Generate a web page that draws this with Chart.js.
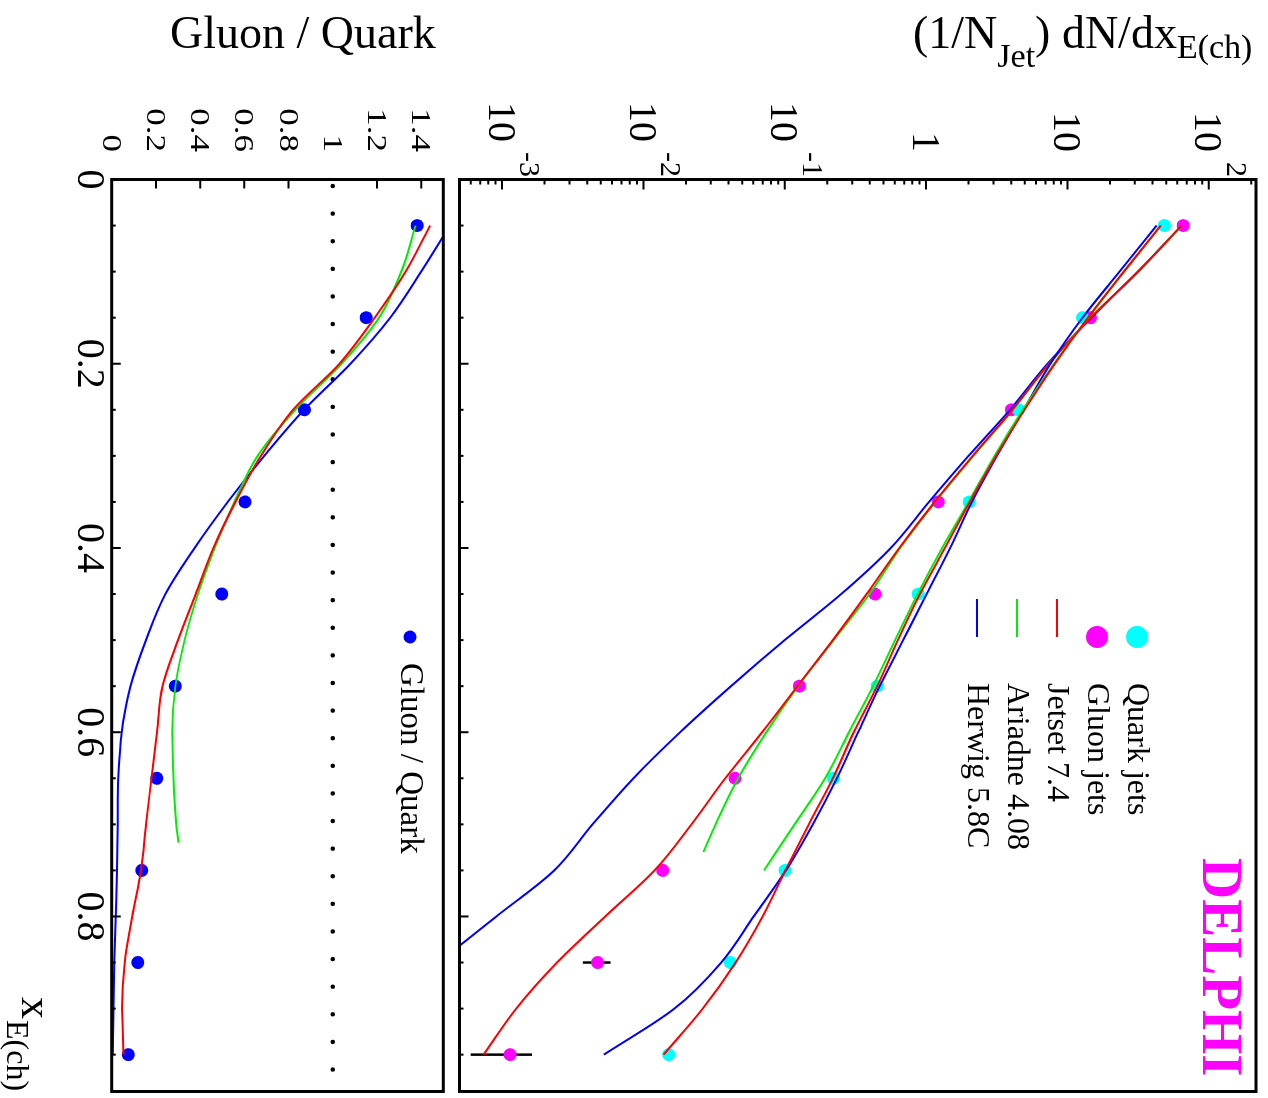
<!DOCTYPE html>
<html lang="en">
<head>
<meta charset="UTF-8" />
<title>DELPHI quark / gluon jet x_E spectra</title>
<script src="https://cdn.jsdelivr.net/npm/chart.js@4.4.1/dist/chart.umd.min.js"></script>
<style>
  body { margin: 0; width: 1268px; height: 1098px; overflow: hidden; background: #fff; }
  /* the plot is built upright, then turned a quarter turn clockwise */
  #turn {
    position: absolute; left: 0; top: 0; width: 1098px; height: 1268px;
    transform-origin: 0 0; transform: translate(1268px, 0) rotate(90deg);
  }
  #turn canvas { position: absolute; left: 0; }
  #spec { top: 0; }
  #ratio { top: 815px; }
</style>
</head>
<body>
<div id="turn">
  <canvas id="spec" width="1098" height="815"></canvas>
  <canvas id="ratio" width="1098" height="453"></canvas>
</div>
<script>
  const SERIF = '"Liberation Serif", "Times New Roman", serif';
  const FULL_H = 1268;   // upright height = page width after the turn
  const RATIO_TOP = 815;

  // measured points, bin centres in x_E
  const xBins = [0.05, 0.15, 0.25, 0.35, 0.45, 0.55, 0.65, 0.75, 0.85, 0.95];
  const quarkJets = [48.6, 12.8, 4.52, 2.02, 0.879, 0.451, 0.221, 0.1005, 0.0412, 0.0151];
  const gluonJets = [65.9, 14.6, 4.02, 1.22, 0.435, 0.127, 0.0445, 0.0137, 0.00474, 0.00114];
  const gluonErrLow = [null, null, null, null, null, null, null, null, 0.00373, 0.0006];
  const gluonErrHigh = [null, null, null, null, null, null, null, null, 0.00586, 0.00163];
  const gluonOverQuark = [1.382, 1.151, 0.872, 0.603, 0.498, 0.288, 0.204, 0.136, 0.118, 0.075];

  // model curves
  const curveX = [0.05, 0.10, 0.15, 0.20, 0.25, 0.30, 0.35, 0.40, 0.45, 0.50,
                  0.55, 0.60, 0.65, 0.70, 0.75, 0.80, 0.85, 0.90, 0.95];
  const jetsetQuark = [45.8, 25.1, 14.0, 8.15, 4.97, 3.13, 2.04, 1.36, 0.904, 0.632,
                       0.451, 0.308, 0.219, 0.148, 0.101, 0.0697, 0.0449, 0.0263, 0.0139];
  const herwigQuark = [42.8, 23.4, 12.8, 7.59, 4.9, 3.17, 2.11, 1.48, 1.01, 0.689,
                       0.47, 0.331, 0.234, 0.158, 0.102, 0.0603, 0.0355, 0.0166, 0.00525];
  const ariadneQuarkX = [0.05, 0.10, 0.15, 0.20, 0.25, 0.30, 0.35, 0.40, 0.45, 0.50,
                         0.55, 0.60, 0.65, 0.70, 0.75];
  const ariadneQuark = [45.8, 25.1, 14.0, 8.04, 4.84, 3.05, 2.0, 1.30, 0.873, 0.605,
                        0.422, 0.285, 0.193, 0.1175, 0.0714];
  const jetsetGluon = [64.3, 31.6, 14.6, 7.4, 4.08, 2.14, 1.15, 0.646, 0.38, 0.219,
                       0.123, 0.0692, 0.038, 0.0219, 0.012, 0.00537, 0.00245, 0.00126, 0.00074];
  const herwigGluon = [64.3, 31.6, 14.8, 7.24, 3.92, 2.0, 1.05, 0.562, 0.251, 0.1,
                       0.0417, 0.0182, 0.0085, 0.00437, 0.00234, 0.00091, 0.000355, 0.00014, 0.000056];
  const ariadneGluonX = [0.05, 0.10, 0.15, 0.20, 0.25, 0.30, 0.35, 0.40, 0.45, 0.50,
                         0.55, 0.60, 0.65, 0.70, 0.73];
  const ariadneGluon = [64.3, 31.6, 14.6, 7.4, 4.1, 2.16, 1.16, 0.655, 0.398, 0.221,
                        0.124, 0.0741, 0.0468, 0.0324, 0.0266];

  const jetsetRatio = [1.44, 1.33, 1.19, 1.03, 0.82, 0.675, 0.56, 0.46, 0.38, 0.30,
                       0.23, 0.205, 0.18, 0.155, 0.133, 0.093, 0.059, 0.047, 0.053];
  const herwigRatio = [1.53, 1.40, 1.26, 1.08, 0.87, 0.69, 0.525, 0.375, 0.243, 0.155,
                       0.085, 0.045, 0.030, 0.027, 0.024, 0.018, 0.012, 0.008, 0.005];
  const ariadneRatioX = [0.05, 0.10, 0.15, 0.20, 0.25, 0.30, 0.35, 0.40, 0.45, 0.50,
                         0.55, 0.60, 0.65, 0.70, 0.72];
  const ariadneRatio = [1.375, 1.31, 1.21, 1.04, 0.83, 0.66, 0.555, 0.465, 0.39, 0.33,
                        0.288, 0.274, 0.279, 0.292, 0.302];
  const unityLevel = 1;

  // axes and labels
  const xRange = [0, 0.99];
  const specRange = [5e-4, 216];
  const ratioRange = [0, 1.5];
  const logTickExps = [-3, -2, -1, 0, 1, 2];
  const ratioTicks = [0, 0.2, 0.4, 0.6, 0.8, 1, 1.2, 1.4];
  const xTickLabels = [0, 0.2, 0.4, 0.6, 0.8];
  const legendLabels = ['Quark jets', 'Gluon jets', 'Jetset 7.4', 'Ariadne 4.08', 'Herwig 5.8C'];

  const RED = '#ff0000', GREEN = '#00ee00', BLUE = '#0000ff', CYAN = '#00ffff', MAGENTA = '#ff00ff';

  function pts(xs, ys) { return xs.map((x, i) => ({ x: x, y: ys[i] })); }

  function curve(xs, ys, color) {
    return { data: pts(xs, ys), borderColor: color, borderWidth: 2, pointRadius: 0,
             fill: false, cubicInterpolationMode: 'monotone', order: 0 };
  }
  function dots(xs, ys, color) {
    return { data: pts(xs, ys), showLine: false, pointRadius: 6.5, pointBorderWidth: 0,
             pointBackgroundColor: color, borderColor: color, order: 1 };
  }

  // text that reads left to right once the page is turned; X, Y are page coords
  function pageText(ctx, top, runs, X, Y) {
    ctx.save();
    ctx.translate(Y, FULL_H - X - top);
    ctx.rotate(-Math.PI / 2);
    ctx.fillStyle = '#000';
    ctx.textAlign = 'left';
    ctx.textBaseline = 'alphabetic';
    let cx = 0;
    runs.forEach(r => {
      ctx.font = r.font;
      ctx.fillText(r.text, cx, r.dy || 0);
      cx += ctx.measureText(r.text).width;
    });
    ctx.restore();
  }

  // box plus inward ticks
  function drawFrame(chart, yTicks) {
    const { ctx, chartArea: a } = chart;
    const xs = chart.scales.x, ys = chart.scales.y;
    ctx.save();
    ctx.strokeStyle = '#000';
    ctx.lineWidth = 2;
    ctx.beginPath();
    yTicks.forEach(t => {
      const p = ys.getPixelForValue(t.v);
      ctx.moveTo(a.left, p); ctx.lineTo(a.left + t.len, p);
    });
    for (let i = 1; i < 20; i++) {
      const p = xs.getPixelForValue(i * 0.05);
      ctx.moveTo(p, a.bottom); ctx.lineTo(p, a.bottom - (i % 4 === 0 ? 9 : 4));
    }
    ctx.stroke();
    ctx.lineWidth = 3;
    ctx.strokeRect(a.left, a.top, a.right - a.left, a.bottom - a.top);
    ctx.restore();
  }

  function baseOptions(yScale, padTop, padBottom) {
    return {
      responsive: false,
      animation: false,
      devicePixelRatio: 1,
      layout: { padding: { left: 179.5, right: 3.7, top: padTop, bottom: padBottom } },
      scales: {
        x: { type: 'linear', min: xRange[0], max: xRange[1], bounds: 'data', display: false },
        y: Object.assign({ display: false, bounds: 'data' }, yScale)
      },
      plugins: { legend: { display: false }, tooltip: { enabled: false } }
    };
  }

  const specDecor = {
    id: 'specDecor',
    beforeDatasetsDraw(chart) {
      const ctx = chart.ctx, xs = chart.scales.x, ys = chart.scales.y;
      ctx.save();
      ctx.strokeStyle = '#000';
      ctx.lineWidth = 2.5;
      xBins.forEach((x, i) => {
        if (gluonErrLow[i] == null) return;
        const p = xs.getPixelForValue(x);
        ctx.beginPath();
        ctx.moveTo(p, ys.getPixelForValue(gluonErrLow[i]));
        ctx.lineTo(p, ys.getPixelForValue(gluonErrHigh[i]));
        ctx.stroke();
      });
      ctx.restore();
    },
    afterDraw(chart) {
      const ctx = chart.ctx, ys = chart.scales.y;
      const ticks = [];
      for (let e = -4; e <= 2; e++) {
        for (let k = 1; k <= 9; k++) {
          const v = k * Math.pow(10, e);
          if (v > specRange[0] && v < specRange[1]) ticks.push({ v: v, len: k === 1 ? 10 : 5 });
        }
      }
      drawFrame(chart, ticks);

      ctx.save();
      ctx.fillStyle = '#000';
      ctx.textAlign = 'right';
      ctx.textBaseline = 'alphabetic';
      logTickExps.forEach(e => {
        const p = ys.getPixelForValue(Math.pow(10, e));
        if (e === 0 || e === 1) {
          ctx.font = '40px ' + SERIF;
          ctx.fillText(e === 0 ? '1' : '10', 152, p + 13.5);
          return;
        }
        const sup = String(e);
        ctx.font = '30px ' + SERIF;
        const w = ctx.measureText(sup).width;
        ctx.fillText(sup, 177, p - 18);
        ctx.font = '40px ' + SERIF;
        ctx.fillText('10', 177 - w - 10, p + 13.5);
      });

      // legend
      const rows = [131, 171, 211, 251, 291];
      const marks = [CYAN, MAGENTA, RED, GREEN, BLUE];
      ctx.textAlign = 'left';
      ctx.font = '32px ' + SERIF;
      rows.forEach((ry, i) => {
        if (i < 2) {
          ctx.fillStyle = marks[i];
          ctx.beginPath(); ctx.arc(637, ry, 11, 0, 2 * Math.PI); ctx.fill();
        } else {
          ctx.strokeStyle = marks[i]; ctx.lineWidth = 2;
          ctx.beginPath(); ctx.moveTo(599, ry); ctx.lineTo(637, ry); ctx.stroke();
        }
        ctx.fillStyle = '#000';
        ctx.fillText(legendLabels[i], 683, ry + 9);
      });

      ctx.fillStyle = MAGENTA;
      ctx.font = 'bold 57px ' + SERIF;
      ctx.fillText('DELPHI', 858, 65);
      ctx.restore();

      pageText(ctx, 0, [
        { text: '(1/N', font: '46px ' + SERIF },
        { text: 'Jet', font: '34px ' + SERIF, dy: 19 },
        { text: ') dN/dx', font: '46px ' + SERIF },
        { text: 'E(ch)', font: '34px ' + SERIF, dy: 10 }
      ], 913, 48);
    }
  };

  const ratioDecor = {
    id: 'ratioDecor',
    afterDraw(chart) {
      const ctx = chart.ctx, xs = chart.scales.x, ys = chart.scales.y;
      drawFrame(chart, ratioTicks.filter(v => v > 0 && v !== 1).map(v => ({ v: v, len: 9 })));

      ctx.save();
      ctx.fillStyle = '#000';
      ctx.textAlign = 'right';
      ctx.textBaseline = 'alphabetic';
      ctx.font = '35px ' + SERIF;
      ratioTicks.forEach(v => {
        const p = ys.getPixelForValue(v);
        ctx.save();
        ctx.translate(152, p);
        ctx.scale(1, 0.75);
        ctx.fillText(String(v), 0, 11.8);
        ctx.restore();
      });

      ctx.textAlign = 'center';
      ctx.font = '40px ' + SERIF;
      xTickLabels.forEach(v => {
        ctx.fillText(String(v), xs.getPixelForValue(v), 375);
      });

      // x_E(ch) axis title
      ctx.textAlign = 'left';
      ctx.font = '44px ' + SERIF;
      ctx.fillText('x', 997, 431);
      ctx.font = '32px ' + SERIF;
      ctx.fillText('E(ch)', 1020, 446);

      // legend
      ctx.fillStyle = BLUE;
      ctx.beginPath(); ctx.arc(637, 43, 6.5, 0, 2 * Math.PI); ctx.fill();
      ctx.fillStyle = '#000';
      ctx.font = '33px ' + SERIF;
      ctx.fillText('Gluon / Quark', 663, 52);
      ctx.restore();

      pageText(ctx, RATIO_TOP, [{ text: 'Gluon / Quark', font: '46px ' + SERIF }], 170, 48);
    }
  };

  new Chart(document.getElementById('spec'), {
    type: 'line',
    data: {
      datasets: [
        curve(curveX, jetsetQuark, RED),
        curve(ariadneQuarkX, ariadneQuark, GREEN),
        curve(curveX, herwigQuark, BLUE),
        curve(curveX, jetsetGluon, RED),
        curve(ariadneGluonX, ariadneGluon, GREEN),
        curve(curveX, herwigGluon, BLUE),
        dots(xBins, quarkJets, CYAN),
        dots(xBins, gluonJets, MAGENTA)
      ]
    },
    options: baseOptions({ type: 'logarithmic', min: specRange[0], max: specRange[1] }, 12, 4),
    plugins: [specDecor]
  });

  new Chart(document.getElementById('ratio'), {
    type: 'line',
    data: {
      datasets: [
        {
          data: [{ x: xRange[0], y: unityLevel }, { x: xRange[1], y: unityLevel }],
          borderColor: '#000', borderWidth: 4.5, borderDash: [0.01, 27.6],
          borderDashOffset: 21.1, borderCapStyle: 'round', pointRadius: 0, order: 2
        },
        curve(curveX, jetsetRatio, RED),
        curve(ariadneRatioX, ariadneRatio, GREEN),
        curve(curveX, herwigRatio, BLUE),
        dots(xBins, gluonOverQuark, BLUE)
      ]
    },
    options: baseOptions({ type: 'linear', min: ratioRange[0], max: ratioRange[1] }, 9.7, 111.7),
    plugins: [ratioDecor]
  });
</script>
</body>
</html>
